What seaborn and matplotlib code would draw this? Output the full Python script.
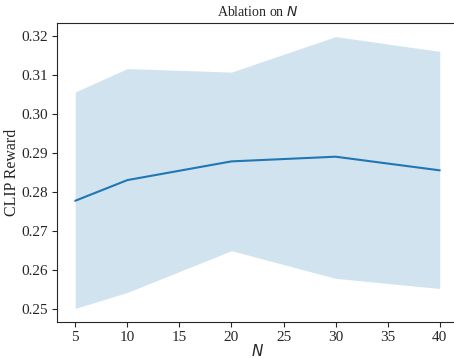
import numpy as np
import pandas as pd
import matplotlib
matplotlib.use("Agg")
import matplotlib.pyplot as plt
import seaborn as sns

N_VALUES = [5, 10, 20, 30, 40]
MEAN_REWARD = [0.2778, 0.2831, 0.2879, 0.2891, 0.2856]
LOWER_REWARD = [0.2502, 0.2543, 0.2650, 0.2579, 0.2553]
UPPER_REWARD = [0.3057, 0.3117, 0.3108, 0.3199, 0.3161]

sns.set_style("ticks")
plt.rcParams['font.family'] = ['Liberation Serif', 'DejaVu Serif']
plt.rcParams['font.size'] = 11

df = pd.DataFrame({'N': N_VALUES, 'reward': MEAN_REWARD,
                   'lo': LOWER_REWARD, 'hi': UPPER_REWARD})

fig = plt.figure(figsize=(4.54, 3.58), dpi=100)
ax = fig.add_axes([57 / 454, 36 / 358, 401 / 454, 299 / 358])

color = sns.color_palette("tab10")[0]
sns.lineplot(data=df, x='N', y='reward', color=color, linewidth=1.5, ax=ax)
ax.fill_between(df['N'], df['lo'], df['hi'], color=color, alpha=0.2, linewidth=0)

ax.set_xticks([5, 10, 15, 20, 25, 30, 35, 40])
ax.set_title('Ablation on $N$', fontsize=10, pad=5)
ax.set_xlabel('$N$', fontsize=11, labelpad=-1)
ax.set_ylabel('CLIP Reward', fontsize=11.5, labelpad=1)
ax.tick_params(labelsize=11, length=3.5, pad=3)

fig.savefig('out.png', dpi=100)
